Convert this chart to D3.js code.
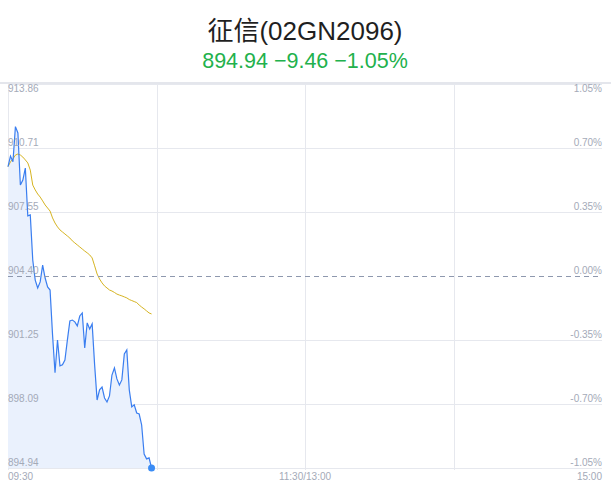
<!DOCTYPE html>
<html>
<head>
<meta charset="utf-8">
<script src="https://cdn.jsdelivr.net/npm/d3@7/dist/d3.min.js"></script>
<style>
  html, body { margin: 0; padding: 0; background: #fff; }
  svg { display: block; font-family: "Liberation Sans", "Noto Sans CJK SC", sans-serif; }
</style>
</head>
<body>
<svg id="chart" width="611" height="492"></svg>
<script>
// minute-by-minute prices from 09:30
var prices = [909.79, 910.31, 910.03, 911.76, 911.45, 908.88, 909.13, 909.72, 907.36, 907.41,
              905.19, 904.20, 903.81, 904.11, 904.94, 904.30, 903.86, 903.71, 901.50, 899.63,
              901.25, 899.97, 900.02, 900.26, 901.25, 902.19, 902.23, 902.14, 901.94, 902.43,
              902.58, 900.86, 902.09, 901.79, 902.04, 900.02, 898.29, 898.79, 898.93, 898.39,
              898.19, 898.49, 899.52, 899.87, 899.33, 899.03, 899.28, 900.56, 900.76, 898.79,
              897.95, 898.05, 897.65, 897.60, 897.06, 895.63, 895.39, 895.44, 894.94];
var averages = [909.79, 910.02, 910.17, 910.36, 910.41, 910.36, 910.26, 910.12, 909.97, 909.62,
                908.88, 908.64, 908.44, 908.29, 908.10, 907.90, 907.75, 907.60, 907.26, 907.01,
                906.82, 906.67, 906.57, 906.47, 906.37, 906.27, 906.13, 906.03, 905.93, 905.83,
                905.73, 905.63, 905.54, 905.44, 905.29, 904.90, 904.50, 904.25, 904.06, 903.91,
                903.81, 903.71, 903.66, 903.59, 903.51, 903.46, 903.42, 903.37, 903.32, 903.24,
                903.19, 903.14, 903.09, 902.97, 902.87, 902.78, 902.68, 902.58, 902.53];
var priceTicks = [913.86, 910.71, 907.55, 904.40, 901.25, 898.09, 894.94];
var pctTicks = ['1.05%', '0.70%', '0.35%', '0.00%', '-0.35%', '-0.70%', '-1.05%'];
var timeTicks = [0, 60, 120, 180, 240];
var timeLabels = ['09:30', '', '11:30/13:00', '', '15:00'];
var prevClose = 904.40;
var title = '征信(02GN2096)';
var quote = '894.94 \u22129.46 \u22121.05%';

var margin = {top: 84, right: 9, bottom: 24, left: 8}
    ,width  = 611 - margin.left - margin.right
    ,height = 492 - margin.top - margin.bottom;

var svg = d3.select('#chart');

var x = d3.scaleLinear().domain([0, 240]).range([margin.left, margin.left + width]);
var y = d3.scaleLinear().domain([894.94, 913.86]).range([margin.top + height, margin.top]);

// header
svg.append('text')
   .attr('x', 305).attr('y', 40)
   .attr('text-anchor', 'middle')
   .attr('font-size', 26)
   .attr('fill', '#1f1f1f')
   .text(title);

svg.append('text')
   .attr('x', 305).attr('y', 68)
   .attr('text-anchor', 'middle')
   .attr('font-size', 21.5)
   .attr('fill', '#22b14c')
   .text(quote);

// top border
svg.append('line')
   .attr('x1', 0).attr('x2', 611)
   .attr('y1', margin.top - 1).attr('y2', margin.top - 1)
   .attr('stroke', '#e4e6ec').attr('stroke-width', 2);

// horizontal grid
svg.append('g').selectAll('line')
   .data(priceTicks.filter(function(d) { return d !== prevClose; }))
   .enter().append('line')
     .attr('x1', x(0)).attr('x2', x(240))
     .attr('y1', function(d) { return Math.round(y(d)) + 0.5; })
     .attr('y2', function(d) { return Math.round(y(d)) + 0.5; })
     .attr('stroke', '#e6e8ee');

// vertical grid
svg.append('g').selectAll('line')
   .data(timeTicks.slice(0, 4))
   .enter().append('line')
     .attr('x1', function(d) { return Math.round(x(d)) + 0.5; })
     .attr('x2', function(d) { return Math.round(x(d)) + 0.5; })
     .attr('y1', margin.top).attr('y2', margin.top + height + 2)
     .attr('stroke', '#e6e8ee');

// area + lines
var area = d3.area()
   .x(function(d, i) { return x(i); })
   .y0(y(894.94))
   .y1(function(d) { return y(d); });

var line = d3.line()
   .x(function(d, i) { return x(i); })
   .y(function(d) { return y(d); });

svg.append('path')
   .datum(prices)
   .attr('d', area)
   .attr('fill', '#eaf1fd');

svg.append('path')
   .datum(averages)
   .attr('d', line)
   .attr('fill', 'none')
   .attr('stroke', '#d6b422')
   .attr('stroke-width', 1);

svg.append('path')
   .datum(prices)
   .attr('d', line)
   .attr('fill', 'none')
   .attr('stroke', '#3a7ef0')
   .attr('stroke-width', 1.2);

// previous close
svg.append('line')
   .attr('x1', x(0)).attr('x2', x(240))
   .attr('y1', Math.round(y(prevClose)) + 0.5).attr('y2', Math.round(y(prevClose)) + 0.5)
   .attr('stroke', '#8e98ae')
   .attr('stroke-dasharray', '5,4');

// last point
svg.append('circle')
   .attr('cx', x(prices.length - 1))
   .attr('cy', y(prices[prices.length - 1]))
   .attr('r', 3.5)
   .attr('fill', '#3a8cf5');

// price labels (left)
svg.append('g').selectAll('text')
   .data(priceTicks)
   .enter().append('text')
     .attr('x', x(0))
     .attr('y', function(d, i) { return i === 0 ? y(d) + 8 : y(d) - 2; })
     .attr('font-size', 10)
     .attr('fill', '#a4aab8')
     .text(function(d) { return d.toFixed(2); });

// percent labels (right)
svg.append('g').selectAll('text')
   .data(priceTicks)
   .enter().append('text')
     .attr('x', x(240))
     .attr('y', function(d, i) { return i === 0 ? y(d) + 8 : y(d) - 2; })
     .attr('text-anchor', 'end')
     .attr('font-size', 10)
     .attr('fill', '#a4aab8')
     .text(function(d, i) { return pctTicks[i]; });

// time labels
svg.append('g').selectAll('text')
   .data(timeTicks)
   .enter().append('text')
     .attr('x', function(d) { return x(d); })
     .attr('y', margin.top + height + 12)
     .attr('text-anchor', function(d, i) { return i === 0 ? 'start' : (i === 4 ? 'end' : 'middle'); })
     .attr('font-size', 10)
     .attr('fill', '#a4aab8')
     .text(function(d, i) { return timeLabels[i]; });
</script>
</body>
</html>
